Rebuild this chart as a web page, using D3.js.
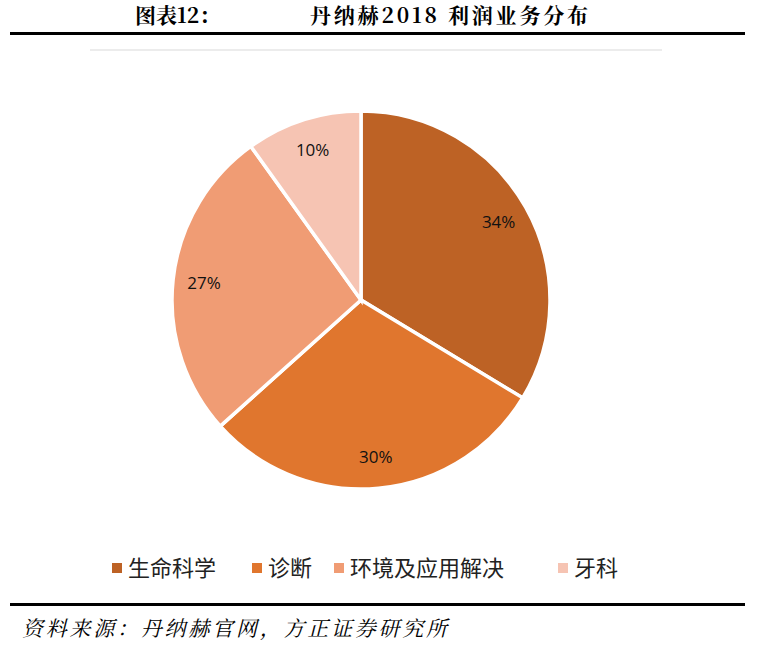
<!DOCTYPE html><html><head><meta charset="utf-8"><script src="https://cdn.jsdelivr.net/npm/d3@7"></script>
<style>body{margin:0;background:#fff}</style></head><body><svg id="c" width="763" height="645"></svg>
<script>
const categories=["生命科学","诊断","环境及应用解决","牙科"];
const values=[34,30,27,10];
const colors=["#BD6225","#E0762E","#F09C74","#F6C4B3"];
const legendX=[112,252,334,558];
const svg=d3.select("#c");
const serif="'Noto Serif CJK SC','Noto Sans CJK SC',serif";
svg.append("text").attr("x",135).attr("y",23).attr("font-family",serif).attr("font-weight","bold").attr("font-size",21).text("图表12：");
svg.append("text").attr("x",310).attr("y",23).attr("font-family",serif).attr("font-weight","bold").attr("font-size",21).attr("textLength",278).text("丹纳赫2018 利润业务分布");
svg.append("rect").attr("x",10).attr("y",32).attr("width",735).attr("height",3).attr("fill","#000");
svg.append("line").attr("x1",90).attr("x2",662).attr("y1",50).attr("y2",50).attr("stroke","#d9d9d9");
svg.append("rect").attr("x",10).attr("y",603).attr("width",735).attr("height",3).attr("fill","#000");
svg.append("text").attr("x",22).attr("y",636).attr("font-family",serif).attr("font-style","italic").attr("font-size",21).attr("textLength",425).text("资料来源：丹纳赫官网，方正证券研究所");
const g=svg.append("g").attr("transform","translate(361,300)");
const pie=d3.pie().sort(null)(values);
const arc=d3.arc().innerRadius(0).outerRadius(189);
g.selectAll("path").data(pie).join("path").attr("d",arc).attr("fill",(d,i)=>colors[i]).attr("stroke","#fff").attr("stroke-width",3.5);
const la=d3.arc().innerRadius(158).outerRadius(158);
g.selectAll("text").data(pie).join("text").attr("transform",d=>`translate(${la.centroid(d)})`).attr("text-anchor","middle").attr("dy","0.35em")
 .attr("font-family","'Open Sans',sans-serif").attr("font-size",17).attr("fill","#111").text(d=>d.data+"%");
const lg=svg.append("g");
categories.forEach((c,i)=>{
 lg.append("rect").attr("x",legendX[i]).attr("y",563).attr("width",10).attr("height",10).attr("fill",colors[i]);
 lg.append("text").attr("x",legendX[i]+16).attr("y",576).attr("font-family","'Noto Sans CJK SC',sans-serif").attr("font-size",22).attr("fill","#222").text(c);
});
</script></body></html>
